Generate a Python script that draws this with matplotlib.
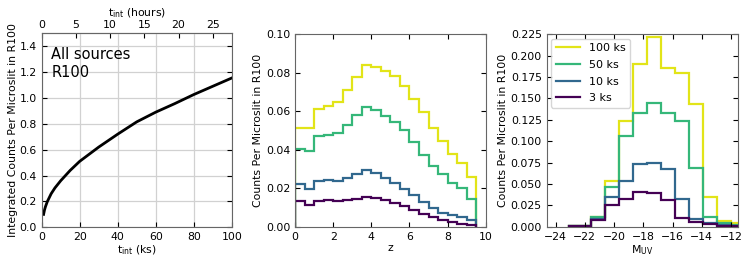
import numpy as np
import matplotlib
matplotlib.use('Agg')
import matplotlib.pyplot as plt

# integrated counts vs integration time
T_KS = [1, 1.5, 2, 3, 4, 5, 7, 10, 15, 20, 25, 30, 40, 50, 60, 70, 80, 90, 100]
INTEGRATED = [0.10, 0.135, 0.16, 0.20, 0.23, 0.26, 0.305, 0.36, 0.44, 0.51, 0.565, 0.62, 0.72,
              0.815, 0.89, 0.956, 1.026, 1.09, 1.154]

# redshift histograms, bins of 0.5 from 0 to 9.5
Z_EDGES = [0.0, 0.5, 1.0, 1.5, 2.0, 2.5, 3.0, 3.5, 4.0, 4.5, 5.0,
           5.5, 6.0, 6.5, 7.0, 7.5, 8.0, 8.5, 9.0, 9.5]
Z_100KS = [0.0512, 0.0515, 0.0612, 0.0628, 0.0647, 0.0711, 0.0780, 0.0839, 0.0832, 0.0810,
           0.0784, 0.0733, 0.0664, 0.0595, 0.0515, 0.0447, 0.0380, 0.0333, 0.0260]
Z_50KS = [0.0404, 0.0395, 0.0472, 0.0477, 0.0486, 0.0529, 0.0581, 0.0621, 0.0607, 0.0577,
          0.0546, 0.0503, 0.0440, 0.0375, 0.0315, 0.0272, 0.0225, 0.0200, 0.0146]
Z_10KS = [0.0222, 0.0198, 0.0237, 0.0243, 0.0237, 0.0255, 0.0274, 0.0296, 0.0281, 0.0255,
          0.0229, 0.0198, 0.0165, 0.0130, 0.0100, 0.0073, 0.0060, 0.0049, 0.0033]
Z_3KS = [0.0132, 0.0113, 0.0133, 0.0137, 0.0135, 0.0139, 0.0146, 0.0156, 0.0151, 0.0139,
         0.0123, 0.0109, 0.0087, 0.0068, 0.0049, 0.0035, 0.0026, 0.0017, 0.0009]

# UV magnitude histograms
MUV_EDGES = [-23.1, -21.6, -20.64, -19.68, -18.72, -17.76, -16.8, -15.84,
             -14.88, -13.92, -12.96, -12.0, -11.04]
MUV_100KS = [0.0008, 0.0117, 0.0538, 0.124, 0.190, 0.2215, 0.186, 0.180, 0.144, 0.035, 0.007, 0.004]
MUV_50KS = [0.0008, 0.011, 0.046, 0.1065, 0.133, 0.1443, 0.1326, 0.124, 0.0686, 0.011, 0.0047, 0.002]
MUV_10KS = [0.0006, 0.0094, 0.0343, 0.054, 0.0733, 0.074, 0.068, 0.0328, 0.0086, 0.0043, 0.002, 0.001]
MUV_3KS = [0.0005, 0.0078, 0.0257, 0.032, 0.0406, 0.0398, 0.031, 0.0098, 0.0058, 0.0027, 0.0012, 0.0004]

LABELS = ['100 ks', '50 ks', '10 ks', '3 ks']
COLORS = ['#e2e418', '#35b779', '#31688e', '#440154']

FS = 7.8
plt.rcParams['font.size'] = FS
plt.rcParams['axes.edgecolor'] = '0.4'
plt.rcParams['mathtext.default'] = 'regular'

fig = plt.figure(figsize=(7.47, 2.64), dpi=100)
ax1 = fig.add_axes([0.0558, 0.139, 0.2544, 0.735])
ax2 = fig.add_axes([0.395, 0.141, 0.2553, 0.729])
ax3 = fig.add_axes([0.7319, 0.141, 0.2565, 0.729])

# panel 1: integrated counts
ax1.plot(T_KS, INTEGRATED, color='k', lw=2)
ax1.set_xlim(0, 100)
ax1.set_ylim(0, 1.5)
ax1.set_xticks(np.arange(0, 101, 20))
ax1.set_yticks(np.arange(0, 1.41, 0.2))
ax1.grid(True, color='0.82', lw=0.9)
ax1.set_axisbelow(True)
ax1.tick_params(direction='in', right=True, labelsize=FS)
ax1.set_xlabel('$t_{int}$ (ks)', labelpad=1)
ax1.set_ylabel('Integrated Counts Per Microslit in R100', labelpad=1)
ax1.text(0.05, 0.93, 'All sources\nR100', transform=ax1.transAxes,
         fontsize=10.5, va='top', ha='left', linespacing=1.3)
top = ax1.secondary_xaxis('top', functions=(lambda x: x / 3.6, lambda h: h * 3.6))
top.set_xticks(np.arange(0, 26, 5))
top.tick_params(direction='in', labelsize=FS, pad=2.5)
# put the top label by hand so it sits just above the hour ticks
ax1.text(0.5, 1.088, '$t_{int}$ (hours)', transform=ax1.transAxes,
         ha='center', va='baseline', fontsize=FS)

# panel 2: redshift
for vals, c in zip([Z_100KS, Z_50KS, Z_10KS, Z_3KS], COLORS):
    ax2.stairs(vals, Z_EDGES, color=c, lw=1.6, baseline=0)
ax2.set_xlim(0, 10)
ax2.set_ylim(0, 0.10)
ax2.set_xticks(np.arange(0, 11, 2))
ax2.set_yticks(np.arange(0, 0.101, 0.02))
ax2.tick_params(direction='in', top=True, right=True, labelsize=FS)
ax2.set_xlabel('z', labelpad=1)
ax2.set_ylabel('Counts Per Microslit in R100', labelpad=2)

# panel 3: M_UV
for vals, c, lab in zip([MUV_100KS, MUV_50KS, MUV_10KS, MUV_3KS], COLORS, LABELS):
    ax3.stairs(vals, MUV_EDGES, color=c, lw=1.6, baseline=0, label=lab)
ax3.set_xlim(-24.6, -11.5)
ax3.set_ylim(0, 0.225)
ax3.set_xticks(np.arange(-24, -11, 2))
ax3.set_yticks(np.arange(0, 0.2251, 0.025))
ax3.tick_params(direction='in', top=True, right=True, labelsize=FS)
ax3.set_xlabel('$M_{UV}$', labelpad=1)
ax3.set_ylabel('Counts Per Microslit in R100', labelpad=2)
handles = [plt.Line2D([], [], color=c, lw=1.6) for c in COLORS]
ax3.legend(handles, LABELS, loc='upper left', fontsize=8, labelspacing=0.6,
           handlelength=2.2, borderaxespad=0.4)

fig.savefig('out.png', dpi=100)
